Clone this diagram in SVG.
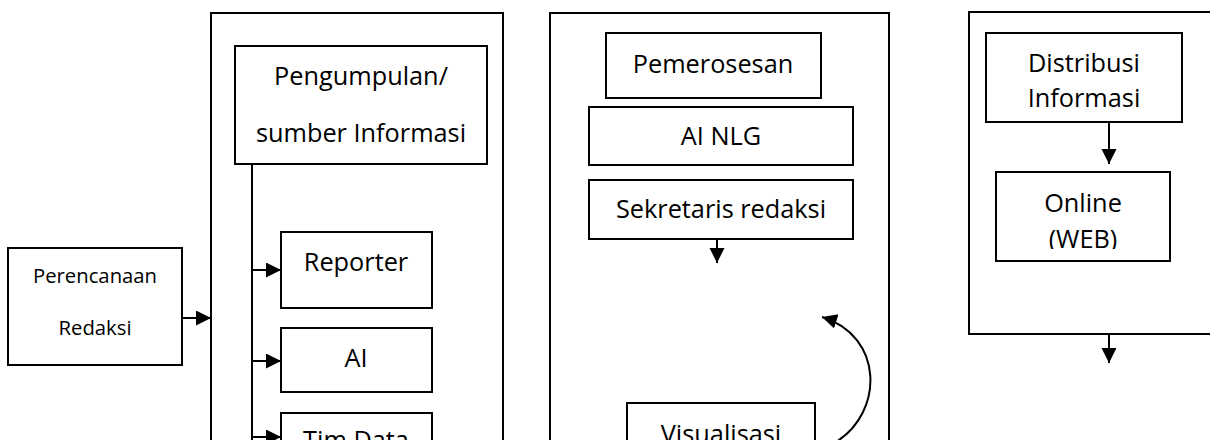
<svg xmlns="http://www.w3.org/2000/svg" width="1210" height="440" viewBox="0 0 1210 440">
  <style>
    .box { fill: #ffffff; stroke: #000000; stroke-width: 2; }
    .frame { fill: none; stroke: #000000; stroke-width: 2; }
    .lbl { font-family: "Open Sans", "Noto Sans", sans-serif; font-size: 25.3px; fill: #000000; text-anchor: middle; }
    .sm { font-size: 20.3px; }
    .wire { fill: none; stroke: #000000; stroke-width: 2; }
  </style>
  <defs>
    <marker id="arrow" markerUnits="userSpaceOnUse" markerWidth="16" markerHeight="16" refX="15" refY="7.5" orient="auto">
      <path d="M0,0 L15,7.5 L0,15 z" fill="#000000"/>
    </marker>
    <clipPath id="clip-online">
      <rect x="996" y="172" width="174" height="77"/>
    </clipPath>
  </defs>
  <rect width="1210" height="440" fill="#ffffff"/>

  <!-- column frames -->
  <g id="frame-collect"><rect class="frame" x="211" y="13" width="292" height="440"/></g>
  <g id="frame-process"><rect class="frame" x="550" y="13" width="339" height="440"/></g>
  <g id="frame-distribute"><rect class="frame" x="969" y="12" width="250" height="322"/></g>

  <!-- planning -->
  <g id="perencanaan">
    <rect class="box" x="8" y="248" width="174" height="117"/>
    <text class="lbl sm" x="95" y="283">Perencanaan</text>
    <text class="lbl sm" x="95" y="335">Redaksi</text>
  </g>

  <!-- gathering -->
  <g id="pengumpulan">
    <rect class="box" x="235" y="46" width="252" height="118"/>
    <text class="lbl" x="361" y="85">Pengumpulan/</text>
    <text class="lbl" x="361" y="142">sumber Informasi</text>
  </g>
  <g id="reporter">
    <rect class="box" x="281" y="232" width="151" height="76"/>
    <text class="lbl" x="356" y="271">Reporter</text>
  </g>
  <g id="ai">
    <rect class="box" x="281" y="328" width="151" height="64"/>
    <text class="lbl" x="356" y="367">AI</text>
  </g>
  <g id="tim-data">
    <rect class="box" x="281" y="413" width="151" height="50"/>
    <text class="lbl" x="356" y="449">Tim Data</text>
  </g>

  <!-- processing -->
  <g id="pemerosesan">
    <rect class="box" x="606" y="33" width="215" height="65"/>
    <text class="lbl" x="713" y="73">Pemerosesan</text>
  </g>
  <g id="ai-nlg">
    <rect class="box" x="589" y="107" width="264" height="58"/>
    <text class="lbl" x="721" y="145">AI NLG</text>
  </g>
  <g id="sekretaris">
    <rect class="box" x="589" y="180" width="264" height="59"/>
    <text class="lbl" x="721" y="218">Sekretaris redaksi</text>
  </g>
  <g id="visualisasi">
    <rect class="box" x="627" y="403" width="188" height="60"/>
    <text class="lbl" x="721" y="443">Visualisasi</text>
  </g>

  <!-- distribution -->
  <g id="distribusi">
    <rect class="box" x="986" y="33" width="196" height="89"/>
    <text class="lbl" x="1084" y="72">Distribusi</text>
    <text class="lbl" x="1084" y="107">Informasi</text>
  </g>
  <g id="online">
    <rect class="box" x="996" y="172" width="174" height="89"/>
    <g clip-path="url(#clip-online)">
      <text class="lbl" x="1083" y="212">Online</text>
      <text class="lbl" x="1083" y="248">(WEB)</text>
    </g>
  </g>

  <!-- connectors -->
  <g id="connectors">
    <path class="wire" d="M182,318 H211" marker-end="url(#arrow)"/>
    <path class="wire" d="M252,164 V445"/>
    <path class="wire" d="M252,270 H281" marker-end="url(#arrow)"/>
    <path class="wire" d="M252,361 H281" marker-end="url(#arrow)"/>
    <path class="wire" d="M252,437 H281" marker-end="url(#arrow)"/>
    <path class="wire" d="M717,239 V263" marker-end="url(#arrow)"/>
    <path class="wire" d="M836,442 C884,412 884,336 822,317" marker-end="url(#arrow)"/>
    <path class="wire" d="M1109,122 V164" marker-end="url(#arrow)"/>
    <path class="wire" d="M1109,334 V363" marker-end="url(#arrow)"/>
  </g>
</svg>
